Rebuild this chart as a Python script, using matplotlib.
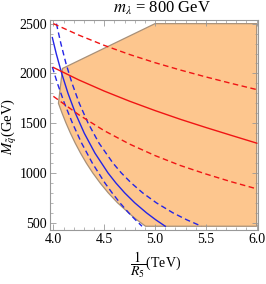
import matplotlib
matplotlib.use("Agg")
import matplotlib.pyplot as plt
from matplotlib.ticker import MultipleLocator, FormatStrFormatter

plt.rcParams['font.family'] = ['Liberation Serif', 'DejaVu Serif']
plt.rcParams['mathtext.fontset'] = 'stix'

# Allowed region boundary (x = 1/R5 in TeV, y = M_q in GeV)
region_x = [5.0, 6.0, 6.0, 4.907, 4.86, 4.796, 4.74, 4.632, 4.54, 4.46, 4.388,
            4.324, 4.267, 4.215, 4.168, 4.125, 4.086, 4.05, 4.09]
region_y = [2500, 2500, 465, 465, 500, 550, 600, 700, 800, 900, 1000,
            1100, 1200, 1300, 1400, 1500, 1600, 1700, 2050]

# Blue curves (x at given y)
blue_solid_y = [2360, 2200, 2000, 1800, 1600, 1400, 1200, 1000, 900, 800, 700, 600, 530, 465]
blue_solid_x = [3.99, 4.028, 4.082, 4.144, 4.217, 4.304, 4.409, 4.538, 4.615, 4.702,
                4.801, 4.916, 5.007, 5.101]
blue_dl_y = [2065, 1900, 1700, 1500, 1300, 1100, 900, 800, 700, 600, 530, 465]
blue_dl_x = [3.99, 4.04, 4.109, 4.188, 4.278, 4.383, 4.507, 4.578, 4.655, 4.741, 4.807, 4.872]
blue_dr_y = [2500, 2300, 2100, 1900, 1700, 1500, 1300, 1100, 1000, 900, 800, 700, 600, 530, 465]
blue_dr_x = [4.03, 4.074, 4.124, 4.184, 4.255, 4.342, 4.449, 4.586, 4.669, 4.766,
             4.879, 5.014, 5.176, 5.312, 5.458]

# Red curves (y at given x)
red_x = [4.0, 4.25, 4.5, 4.75, 5.0, 5.25, 5.5, 5.75, 6.0]
red_solid = [2060, 1935, 1823, 1721, 1627, 1539, 1457, 1378, 1300]
red_upper = [2500, 2385, 2282, 2190, 2108, 2034, 1965, 1900, 1838]
red_lower = [1770, 1585, 1425, 1290, 1175, 1075, 990, 912, 841]

fig = plt.figure(figsize=(2.66, 2.84), dpi=100)
ax = fig.add_axes([0.188, 0.190, 0.783, 0.739])

ax.fill(region_x, region_y, facecolor='#FDC68E', edgecolor='#A89078', linewidth=0.9, zorder=1)

dash = (4, 2.5)
blue = '#2424E6'
red = '#F01414'
ax.plot(blue_solid_x, blue_solid_y, color=blue, lw=1.0, zorder=3)
ax.plot(blue_dl_x, blue_dl_y, color=blue, lw=1.0, dashes=dash, zorder=3)
ax.plot(blue_dr_x, blue_dr_y, color=blue, lw=1.0, dashes=dash, zorder=3)
ax.plot(red_x, red_solid, color=red, lw=1.0, zorder=3)
ax.plot(red_x, red_upper, color=red, lw=1.0, dashes=dash, zorder=3)
ax.plot(red_x, red_lower, color=red, lw=1.0, dashes=dash, zorder=3)

ax.set_xlim(3.967, 6.016)
ax.set_ylim(427, 2535)
ax.xaxis.set_major_locator(MultipleLocator(0.5))
ax.xaxis.set_minor_locator(MultipleLocator(0.1))
ax.yaxis.set_major_locator(MultipleLocator(500))
ax.yaxis.set_minor_locator(MultipleLocator(100))
ax.xaxis.set_major_formatter(FormatStrFormatter('%.1f'))
ax.tick_params(which='both', direction='in', top=True, right=True, color='#999999',
               labelsize=10, pad=2)
ax.tick_params(which='major', length=4, width=0.6)
ax.tick_params(which='minor', length=2, width=0.5)
for s in ax.spines.values():
    s.set_color('#999999')
    s.set_linewidth(0.8)

fig.text(0.61, 0.972, r'$m_\lambda$ = 800 GeV', ha='center', va='center', fontsize=12)
fig.text(0.035, 0.555, r'$M_{\tilde{q}}$(GeV)', rotation=90, ha='center', va='center', fontsize=10.5)
fig.text(0.585, 0.068, r'$\dfrac{1}{R_5}$(TeV)', ha='center', va='center', fontsize=10)

fig.savefig('out.png', dpi=100)
